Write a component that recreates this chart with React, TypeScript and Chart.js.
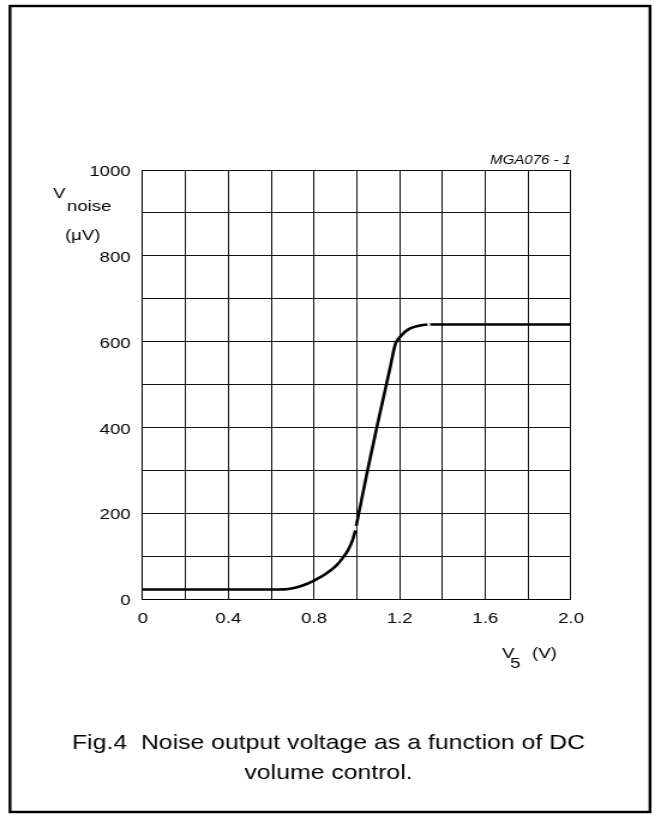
import React, { useEffect, useRef } from "react";
import { Chart, registerables } from "chart.js";

Chart.register(...registerables);

// ---- data ----
const curveX: number[] = [0, 0.2, 0.4, 0.6, 0.66, 0.7, 0.75, 0.8, 0.85, 0.9, 0.93, 0.96, 0.98, 0.993, 0.995, 0.997, 1.05, 1.093, 1.156, 1.179, 1.19, 1.202, 1.225, 1.249, 1.29, 1.33, 1.336, 1.342, 2.0];
const curveY: (number | null)[] = [22, 22, 22, 22, 22.5, 25, 32, 43, 57, 76, 93, 115, 137, 160, null, 170, 300, 400, 541, 593, 604, 611, 623, 631, 637, 640, null, 640, 640];

const xMin = 0;
const xMax = 2.0;
const xStep = 0.2;
const yMin = 0;
const yMax = 1000;
const yStep = 100;
const xLabelEvery = 0.4;
const yLabelEvery = 200;

const codeLabel = "MGA076 - 1";
const yAxisLabel = ["V", "noise", "(μV)"];
const xAxisLabel = ["V", "5", "(V)"];
const titleLines = ["Fig.4  Noise output voltage as a function of DC", "volume control."];

// ---- layout ----
const OUT_W = 655;
const OUT_H = 815;
const BASE_W = 546; // canvas is stretched horizontally like the reference
const K = OUT_W / BASE_W;
const X = (v: number) => v / K;
const FONT = "'Liberation Sans', Arial, Helvetica, sans-serif";

const textPlugin = {
  id: "annotations",
  afterDraw(chart: any) {
    const ctx = chart.ctx as CanvasRenderingContext2D;
    ctx.save();
    // frame
    ctx.strokeStyle = "#000";
    ctx.lineWidth = 2.4;
    ctx.strokeRect(X(10), 6, X(650) - X(10), 812 - 6);

    ctx.fillStyle = "#000";
    ctx.textBaseline = "alphabetic";

    ctx.font = `italic 12.5px ${FONT}`;
    ctx.textAlign = "right";
    ctx.fillText(codeLabel, X(571), 164);

    ctx.textAlign = "left";
    ctx.font = `15.5px ${FONT}`;
    ctx.fillText(yAxisLabel[0], X(53), 198);
    ctx.fillText(yAxisLabel[1], X(67), 211);
    ctx.fillText(yAxisLabel[2], X(65), 240);

    ctx.fillText(xAxisLabel[0], X(502), 658);
    ctx.fillText(xAxisLabel[1], X(510), 668);
    ctx.fillText(xAxisLabel[2], X(532), 658);

    ctx.textAlign = "center";
    ctx.font = `20.7px ${FONT}`;
    ctx.fillText(titleLines[0], X(328.5), 749);
    ctx.fillText(titleLines[1], X(328.5), 779);
    ctx.restore();
  },
};

export default function App() {
  const ref = useRef<HTMLCanvasElement | null>(null);

  useEffect(() => {
    if (!ref.current) return;
    const points = curveX.map((x, i) => ({ x, y: curveY[i] }));
    const chart = new Chart(ref.current, {
      type: "line",
      data: {
        datasets: [
          {
            data: points as any,
            borderColor: "#000",
            borderWidth: 2.6,
            pointRadius: 0,
            fill: false,
            spanGaps: false,
            cubicInterpolationMode: "monotone",
          },
        ],
      },
      options: {
        animation: false,
        responsive: false,
        devicePixelRatio: 1,
        parsing: false as any,
        layout: { padding: { left: 0, right: BASE_W - X(571), top: 170, bottom: OUT_H - 599 - 30 } },
        plugins: { legend: { display: false }, tooltip: { enabled: false } },
        scales: {
          x: {
            type: "linear",
            min: xMin,
            max: xMax,
            afterFit: (s: any) => {
              s.height = 30;
            },
            ticks: {
              stepSize: xStep,
              autoSkip: false,
              maxRotation: 0,
              padding: 10,
              color: "#000",
              font: { family: FONT, size: 15.5 },
              callback: (v: any) => {
                const n = Math.round(Number(v) * 10);
                if (n % Math.round(xLabelEvery * 10) !== 0) return "";
                return n === 0 ? "0" : (n / 10).toFixed(1);
              },
            },
            grid: { color: "#111", lineWidth: 1, drawTicks: false },
            border: { display: true, color: "#000", width: 1 },
          },
          y: {
            type: "linear",
            min: yMin,
            max: yMax,
            afterFit: (s: any) => {
              s.width = X(142.7);
            },
            ticks: {
              stepSize: yStep,
              autoSkip: false,
              padding: 10,
              labelOffset: 2,
              color: "#000",
              font: { family: FONT, size: 15.5 },
              callback: (v: any) => {
                const n = Math.round(Number(v));
                return n % yLabelEvery === 0 ? String(n) : "";
              },
            },
            grid: { color: "#111", lineWidth: 1, drawTicks: false },
            border: { display: true, color: "#000", width: 1 },
          },
        },
      },
      plugins: [textPlugin],
    });
    return () => chart.destroy();
  }, []);

  return (
    <div style={{ position: "absolute", left: 0, top: 0, background: "#fff" }}>
      <canvas
        ref={ref}
        width={BASE_W}
        height={OUT_H}
        style={{ display: "block", width: OUT_W + "px", height: OUT_H + "px" }}
      />
    </div>
  );
}
